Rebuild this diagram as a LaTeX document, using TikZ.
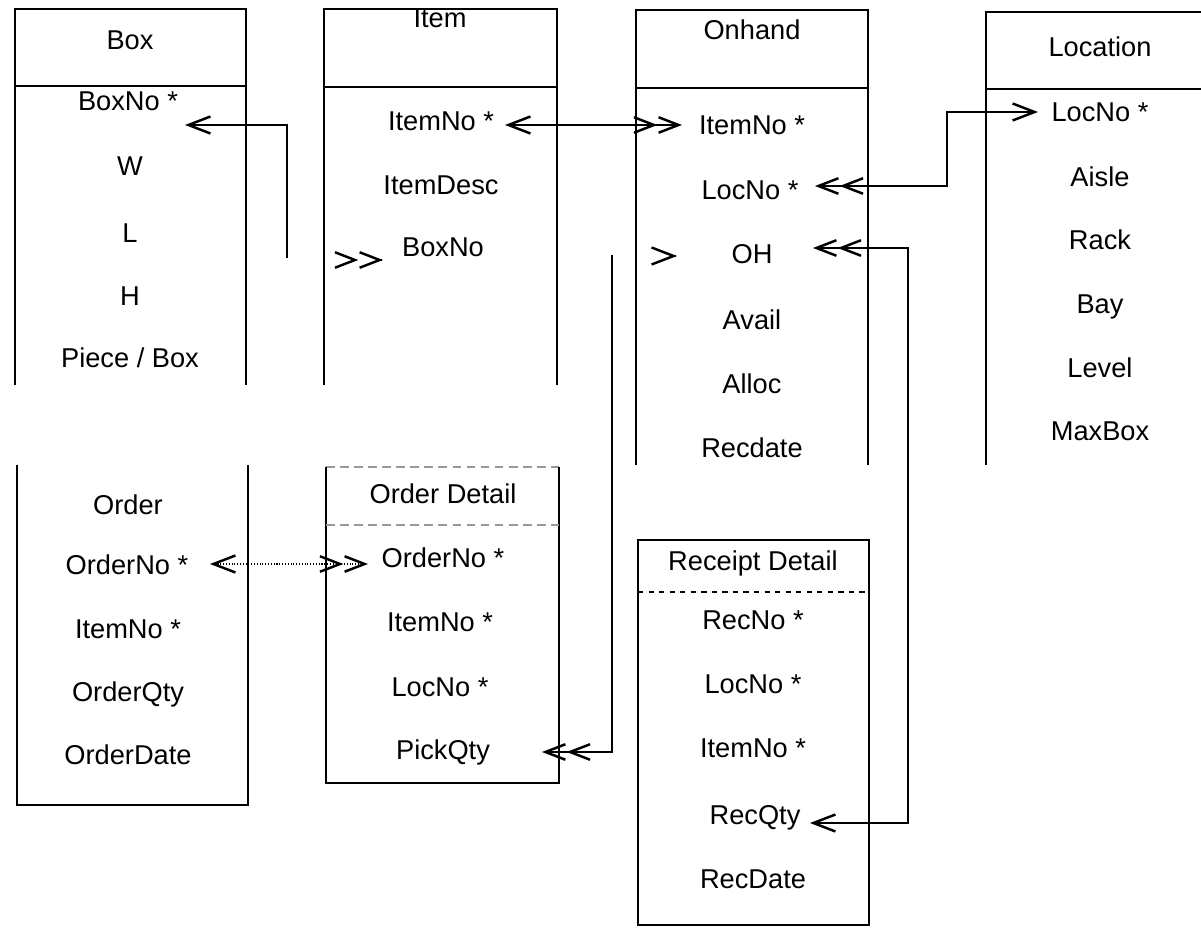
\documentclass[tikz,border=0pt]{standalone}
\usepackage{fontspec}
\setmainfont{Liberation Sans}
\usetikzlibrary{arrows.meta}

\begin{document}
\begin{tikzpicture}[
    x=0.02cm, y=-0.02cm,
    fld/.style={font=\fontsize{15.5}{18}\selectfont, inner sep=0pt, text height=11pt, text depth=0pt},
    frame/.style={line width=0.6pt},
    faint/.style={line width=0.6pt, draw=black!40, dash pattern=on 5pt off 3pt},
    link/.style={line width=0.6pt},
    chv/.tip={Straight Barb[length=0.44cm, width=0.34cm, line width=1.4pt]},
    chvv/.tip={Straight Barb[length=0.4cm, width=0.31cm, line width=1.4pt] Straight Barb[length=0.4cm, width=0.31cm, line width=1.4pt]},
]
    \useasboundingbox (0,0) rectangle (1201,928);

    % Box
    \draw[frame] (15,385) -- (15,9) -- (246,9) -- (246,385);
    \draw[frame] (15,86) -- (246,86);
    \node[fld] (box) at (130,40) {Box};
    \node[fld] (box-no) at (128,101) {BoxNo *};
    \node[fld] (box-w) at (130,166) {W};
    \node[fld] (box-l) at (130,233) {L};
    \node[fld] (box-h) at (130,296) {H};
    \node[fld] (box-pc) at (130,358) {Piece / Box};

    % Item
    \draw[frame] (324,385) -- (324,9) -- (557,9) -- (557,385);
    \draw[frame] (324,87) -- (557,87);
    \node[fld] (item) at (440,18) {Item};
    \node[fld] (item-no) at (441,121) {ItemNo *};
    \node[fld] (item-desc) at (441,185) {ItemDesc};
    \node[fld] (item-box) at (443,247) {BoxNo};

    % Onhand
    \draw[frame] (636,465) -- (636,10) -- (868,10) -- (868,465);
    \draw[frame] (636,88) -- (868,88);
    \node[fld] (oh) at (752,30) {Onhand};
    \node[fld] (oh-item) at (752,125) {ItemNo *};
    \node[fld] (oh-loc) at (750,190) {LocNo *};
    \node[fld] (oh-oh) at (752,254) {OH};
    \node[fld] (oh-avail) at (752,320) {Avail};
    \node[fld] (oh-alloc) at (752,384) {Alloc};
    \node[fld] (oh-rec) at (752,448) {Recdate};

    % Location
    \draw[frame] (986,465) -- (986,12) -- (1201,12);
    \draw[frame] (986,89) -- (1201,89);
    \node[fld] (loc) at (1100,47) {Location};
    \node[fld] (loc-no) at (1100,112) {LocNo *};
    \node[fld] (loc-aisle) at (1100,177) {Aisle};
    \node[fld] (loc-rack) at (1100,240) {Rack};
    \node[fld] (loc-bay) at (1100,304) {Bay};
    \node[fld] (loc-level) at (1100,368) {Level};
    \node[fld] (loc-max) at (1100,431) {MaxBox};

    % Order
    \draw[frame] (17,465) -- (17,805) -- (248,805) -- (248,465);
    \node[fld] (ord) at (128,505) {Order};
    \node[fld] (ord-no) at (127,565) {OrderNo *};
    \node[fld] (ord-item) at (128,629) {ItemNo *};
    \node[fld] (ord-qty) at (128,692) {OrderQty};
    \node[fld] (ord-date) at (128,755) {OrderDate};

    % Order Detail
    \draw[faint] (326,467) -- (559,467);
    \draw[frame] (326,467) -- (326,783) -- (559,783) -- (559,467);
    \draw[faint] (326,525) -- (559,525);
    \node[fld] (od) at (443,494) {Order Detail};
    \node[fld] (od-no) at (443,558) {OrderNo *};
    \node[fld] (od-item) at (440,622) {ItemNo *};
    \node[fld] (od-loc) at (440,687) {LocNo *};
    \node[fld] (od-pick) at (443,750) {PickQty};

    % Receipt Detail
    \draw[frame] (638,925) -- (638,540) -- (869,540) -- (869,925) -- cycle;
    \draw[frame, dashed] (638,592) -- (869,592);
    \node[fld] (rd) at (753,561) {Receipt Detail};
    \node[fld] (rd-no) at (753,620) {RecNo *};
    \node[fld] (rd-loc) at (753,684) {LocNo *};
    \node[fld] (rd-item) at (753,748) {ItemNo *};
    \node[fld] (rd-qty) at (755,815) {RecQty};
    \node[fld] (rd-date) at (753,879) {RecDate};

    % links
    \coordinate (boxno-in) at (185,125);
    \coordinate (boxno-end) at (287,258);
    \draw[link, {chv}-] (boxno-in) -| (boxno-end);
    \coordinate (itembox-mk) at (382,260);
    \draw[link, -{chvv}] (itembox-mk) -- ++(1,0);

    \coordinate (itemno-in) at (505,125);
    \coordinate (ohitem-in) at (682,125);
    \draw[link, {chv}-{chvv}] (itemno-in) -- (ohitem-in);

    \coordinate (ohloc-in) at (815,186);
    \coordinate (locno-in) at (1038,112);
    \draw[link, {chvv}-{chv}] (ohloc-in) -- ++(132,0) |- (locno-in);

    \coordinate (ohoh-in) at (813,248);
    \coordinate (recqty-in) at (810,823);
    \draw[link, {chvv}-{chv}] (ohoh-in) -- ++(95,0) |- (recqty-in);
    \coordinate (ohoh-mk) at (676,256);
    \draw[link, -{chv}] (ohoh-mk) -- ++(1,0);

    \coordinate (pick-end) at (612,255);
    \coordinate (pick-in) at (542,752);
    \draw[link, -{chvv}] (pick-end) |- (pick-in);

    \coordinate (ordno-in) at (210,564);
    \coordinate (odno-in) at (368,564);
    \draw[link, densely dotted, {chv}-{chvv}] (ordno-in) -- (odno-in);
\end{tikzpicture}
\end{document}
